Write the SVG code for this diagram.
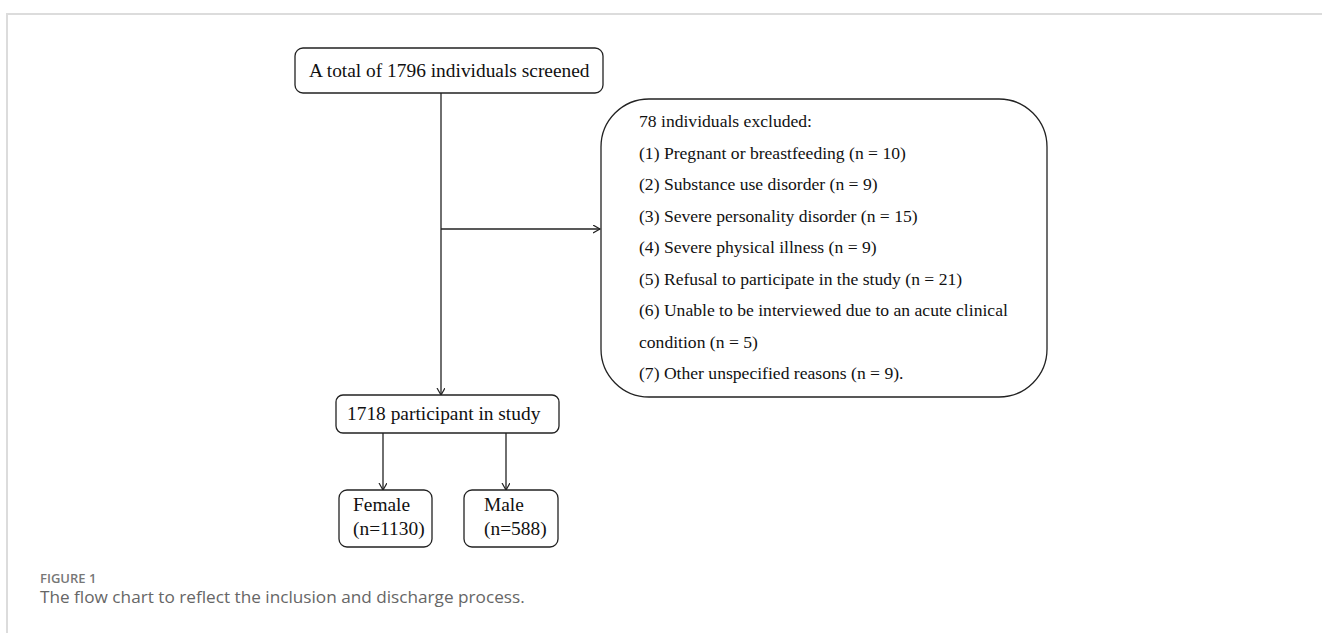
<svg xmlns="http://www.w3.org/2000/svg" width="1322" height="633" viewBox="0 0 1322 633">
<style>
.box{fill:#fff;stroke:#222;stroke-width:1.3}
.t{font-family:"Liberation Serif","Times New Roman",serif;font-size:19.4px;fill:#111}
.s{font-size:17.6px}
.c{stroke:#222;stroke-width:1.3;fill:none}
.cap1{font-family:"Open Sans","Liberation Sans",sans-serif;font-size:13px;font-weight:600;fill:#777}
.cap2{font-family:"Open Sans","Liberation Sans",sans-serif;font-size:17.2px;fill:#666}
</style>
<defs>
<marker id="ah" markerWidth="10" markerHeight="10" refX="7" refY="4" orient="auto" markerUnits="userSpaceOnUse">
<path d="M0,0 L7,4 L0,8" fill="none" stroke="#222" stroke-width="1.2"/>
</marker>
</defs>
<rect width="1322" height="633" fill="#fff"/>
<path d="M7,633 V14 H1322" fill="none" stroke="#dcdcdc" stroke-width="2"/>
<g id="connectors">
<path class="c" d="M441,93 V395" marker-end="url(#ah)"/>
<path class="c" d="M441,229 H600" marker-end="url(#ah)"/>
<path class="c" d="M383,433 V490" marker-end="url(#ah)"/>
<path class="c" d="M506,433 V490" marker-end="url(#ah)"/>
</g>
<g id="screened">
<rect class="box" x="295" y="48" width="308" height="45" rx="8"/>
<text class="t" x="309" y="77">A total of 1796 individuals screened</text>
</g>
<g id="excluded">
<rect class="box" x="601" y="99" width="446" height="298" rx="48"/>
<text class="t s" x="639" y="127">78 individuals excluded:</text>
<text class="t s" x="639" y="158.5">(1) Pregnant or breastfeeding (n = 10)</text>
<text class="t s" x="639" y="190">(2) Substance use disorder (n = 9)</text>
<text class="t s" x="639" y="221.5">(3) Severe personality disorder (n = 15)</text>
<text class="t s" x="639" y="253">(4) Severe physical illness (n = 9)</text>
<text class="t s" x="639" y="284.5">(5) Refusal to participate in the study (n = 21)</text>
<text class="t s" x="639" y="316">(6) Unable to be interviewed due to an acute clinical</text>
<text class="t s" x="639" y="347.5">condition (n = 5)</text>
<text class="t s" x="639" y="379">(7) Other unspecified reasons (n = 9).</text>
</g>
<g id="participants">
<rect class="box" x="336" y="395" width="223" height="38" rx="7"/>
<text class="t" x="347" y="420">1718 participant in study</text>
</g>
<g id="female">
<rect class="box" x="339" y="490" width="93" height="57" rx="8"/>
<text class="t" x="353" y="511">Female</text>
<text class="t" x="353" y="535">(n=1130)</text>
</g>
<g id="male">
<rect class="box" x="464" y="490" width="94" height="57" rx="8"/>
<text class="t" x="484" y="511">Male</text>
<text class="t" x="484" y="535">(n=588)</text>
</g>
<text class="cap1" x="40" y="583">FIGURE 1</text>
<text class="cap2" x="40" y="603">The flow chart to reflect the inclusion and discharge process.</text>
</svg>
